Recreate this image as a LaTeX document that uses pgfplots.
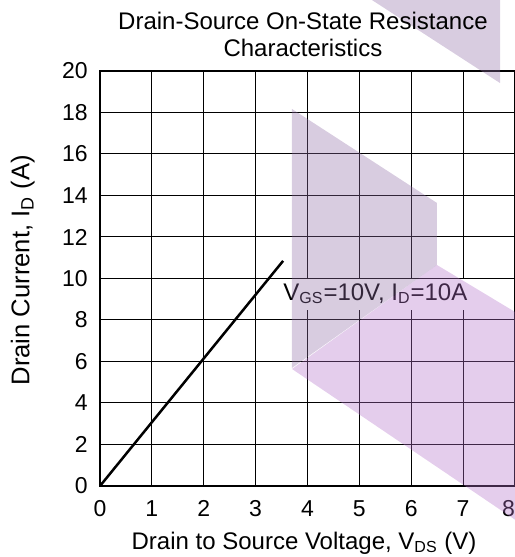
\documentclass[border=0pt]{standalone}
\usepackage{pgfplots}
\pgfplotsset{compat=1.18}
\usepackage{fontspec}
\setmainfont{Liberation Sans}
\definecolor{wmgray}{RGB}{144,109,166}
\definecolor{wmpurple}{RGB}{178,112,201}
\begin{document}
\begin{tikzpicture}
\begin{axis}[
  scale only axis, width=207.5pt, height=207.5pt,
  xmin=0, xmax=8, ymin=0, ymax=20,
  xtick={0,...,8}, ytick={0,2,...,20},
  xticklabels={0,1,2,3,4,5,6,7,\llap{8}},
  grid=major, major grid style={black, line width=0.5pt},
  major tick length=0pt,
  axis line style={line width=1pt},
  clip=false,
  /pgf/number format/assume math mode=true,
  tick label style={font=\fontsize{11.5}{13}\selectfont},
  xticklabel style={anchor=base, yshift=-15.5pt, inner sep=0pt},
  yticklabel style={anchor=east, xshift=-6pt, inner sep=0pt},
]
\addplot[black, line width=1.25pt] coordinates {(0,0) (3.53,10.85)};
\node[fill=white, inner xsep=0pt, inner ysep=0pt, text height=10.5pt, text depth=5pt,
      anchor=base west, font=\fontsize{12}{14}\selectfont]
      at (axis cs:3.528,8.96) {V\textsubscript{GS}=10V, I\textsubscript{D}=10A};
% watermark shapes
\addplot[draw=none, fill=wmgray, fill opacity=0.35] coordinates {(4.947,23.9) (7.711,23.9) (7.711,19.42)} -- cycle;
\addplot[draw=none, fill=wmgray, fill opacity=0.35] coordinates {(3.701,18.17) (6.496,13.64) (6.496,10.65) (3.701,5.69)} -- cycle;
\addplot[draw=none, fill=wmpurple, fill opacity=0.35] coordinates {(3.701,5.64) (6.496,10.65) (8.578,7.52) (8.578,-2.60)} -- cycle;
\coordinate (SW) at (rel axis cs:0,0);
\coordinate (NE) at (rel axis cs:1,1);
\coordinate (T) at (rel axis cs:0.489,1);
\coordinate (XL) at (rel axis cs:0.4916,0);
\coordinate (YL) at (rel axis cs:0,0.52);
\end{axis}
\node[anchor=base, font=\fontsize{12}{14}\selectfont] at ([yshift=20.5pt]T) {Drain-Source On-State Resistance};
\node[anchor=base, font=\fontsize{12}{14}\selectfont] at ([yshift=7pt]T) {Characteristics};
\node[anchor=base, font=\fontsize{12}{14}\selectfont] at ([yshift=-31.5pt]XL) {Drain to Source Voltage, V\textsubscript{DS} (V)};
\node[anchor=base, rotate=90, font=\fontsize{12.8}{15}\selectfont] at ([xshift=-35.25pt]YL) {Drain Current, I\textsubscript{D} (A)};
\pgfresetboundingbox
\path[use as bounding box] ([xshift=-50pt,yshift=-35.5pt]SW) rectangle ([yshift=35.5pt]NE);
\end{tikzpicture}
\end{document}
